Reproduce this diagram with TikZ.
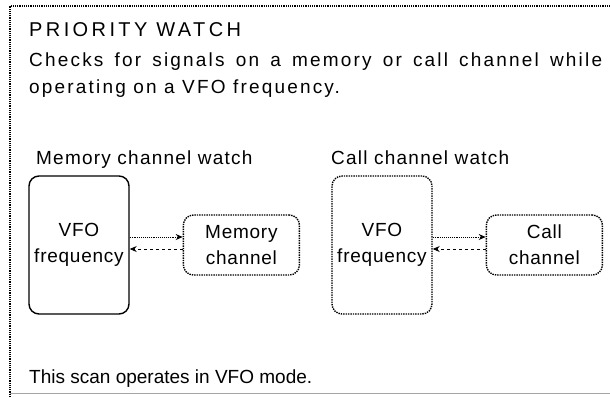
\documentclass[tikz,border=0pt]{standalone}
\usepackage{fontspec}
\setmainfont{Liberation Sans}
\newfontfamily\titlefont[LetterSpace=17]{Liberation Sans}
\newfontfamily\descfont[LetterSpace=11.5]{Liberation Sans}
\newfontfamily\labelfont[LetterSpace=6.5]{Liberation Sans}
\newfontfamily\boxfont[LetterSpace=4]{Liberation Sans}
\usetikzlibrary{positioning, arrows.meta}

\begin{document}
\begin{tikzpicture}[x=1pt, y=-1pt, font=\fontsize{19}{27}\selectfont,
  txt/.style={anchor=base west, inner sep=0pt},
  box/.style={draw=black, rounded corners=10pt, line width=1.4pt, align=center, inner sep=0pt, font=\fontsize{19}{26}\boxfont},
  tall/.style={box, minimum width=100pt, minimum height=138pt},
  chan/.style={box, densely dotted, minimum width=116pt, minimum height=60pt},
  arr/.style={-{Stealth[length=7pt, width=6pt]}, line width=0.9pt}
]
  \useasboundingbox (0,0) rectangle (610,397);
  % frame
  \draw[densely dotted, line width=1.2pt] (10,397) -- (10,6) -- (610,6);
  \draw[black!35, line width=0.8pt] (10,393) -- (610,393);

  \node[txt, font=\fontsize{20}{27}\titlefont] (title) at (29,36) {PRIORITY WATCH};
  \node[txt, text width=573pt, align=justify, font={\fontsize{19}{27}\descfont\hyphenpenalty10000\relax}] (desc) at (29,66)
    {Checks for signals on a memory or call channel while operating on a VFO frequency.};

  % memory channel watch
  \node[txt, font=\fontsize{19}{27}\labelfont] (lblmem) at (36,164) {Memory channel watch};
  \node[tall] (vfo1) at (79,245) {VFO\\frequency};
  \node[chan, right=53pt of vfo1] (mem) {Memory\\channel};
  \draw[arr, densely dotted] ([yshift=8pt]vfo1.east) -- ([yshift=8pt]mem.west);
  \draw[arr, dashed] ([yshift=-4pt]mem.west) -- ([yshift=-4pt]vfo1.east);

  % call channel watch
  \node[txt, font=\fontsize{19}{27}\labelfont] (lblcall) at (331,164) {Call channel watch};
  \node[tall, densely dotted] (vfo2) at (382,245) {VFO\\frequency};
  \node[chan, right=53pt of vfo2] (call) {Call\\channel};
  \draw[arr, densely dotted] ([yshift=8pt]vfo2.east) -- ([yshift=8pt]call.west);
  \draw[arr, dashed] ([yshift=-4pt]call.west) -- ([yshift=-4pt]vfo2.east);

  \node[txt] (note) at (29,383) {This scan operates in VFO mode.};
\end{tikzpicture}
\end{document}
